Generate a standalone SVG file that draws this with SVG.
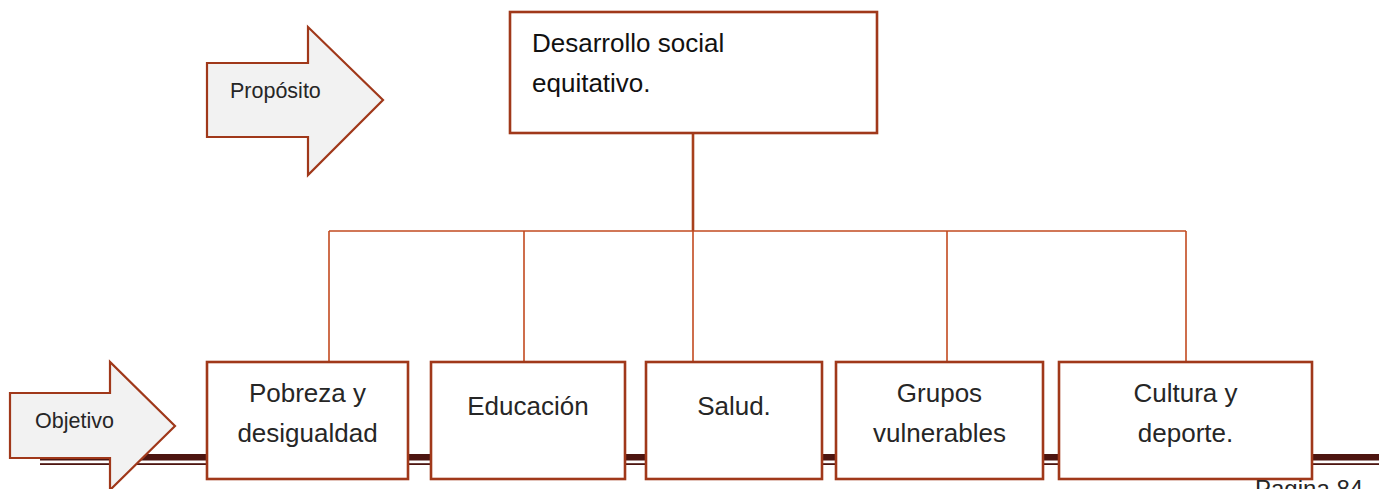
<svg xmlns="http://www.w3.org/2000/svg" width="1379" height="489" viewBox="0 0 1379 489">
<style>
.arrow{fill:#f2f2f2;stroke:#a0381a;stroke-width:2.2;stroke-linejoin:miter}
.box{fill:#ffffff;stroke:#a0381a;stroke-width:2.6}
.conn{stroke:#c24a1f;stroke-width:1.6;fill:none}
.lbl{font-family:"Liberation Sans",Arial,sans-serif;font-size:26px;fill:#262626;text-anchor:middle}
.small{font-family:"Liberation Sans",Arial,sans-serif;font-size:21.5px;fill:#262626}
</style>
<rect width="1379" height="489" fill="#ffffff"/>
<g id="footer-line">
<rect x="40" y="454" width="1339" height="6.5" fill="#4d1510"/>
<rect x="40" y="463.2" width="1339" height="1.8" fill="#4d1510"/>
</g>
<g id="connectors">
<line x1="693" y1="133" x2="693" y2="231" stroke="#a8401c" stroke-width="2.6"/>
<line class="conn" x1="329" y1="231" x2="1186" y2="231"/>
<line class="conn" x1="329" y1="231" x2="329" y2="362"/>
<line class="conn" x1="524" y1="231" x2="524" y2="362"/>
<line class="conn" x1="693" y1="231" x2="693" y2="362"/>
<line class="conn" x1="947" y1="231" x2="947" y2="362"/>
<line class="conn" x1="1186" y1="231" x2="1186" y2="362"/>
</g>
<g id="proposito">
<polygon class="arrow" points="207,63 308,63 308,27 383,100 308,175 308,137 207,137"/>
<text class="small" x="230" y="98">Propósito</text>
</g>
<g id="objetivo">
<polygon class="arrow" points="10,393 110,393 110,362 175,426 110,490 110,458 10,458"/>
<text class="small" x="35" y="428">Objetivo</text>
</g>
<g id="desarrollo">
<rect class="box" x="510" y="12" width="367" height="121"/>
<text style="font-family:'Liberation Sans',Arial,sans-serif;font-size:26px;fill:#111111" x="532" y="52">Desarrollo social</text>
<text style="font-family:'Liberation Sans',Arial,sans-serif;font-size:26px;fill:#111111" x="532" y="92">equitativo.</text>
</g>
<g id="pobreza">
<rect class="box" x="207" y="362" width="201" height="117"/>
<text class="lbl" x="307.5" y="402">Pobreza y</text>
<text class="lbl" x="307.5" y="442">desigualdad</text>
</g>
<g id="educacion">
<rect class="box" x="431" y="362" width="194" height="117"/>
<text class="lbl" x="528" y="415">Educación</text>
</g>
<g id="salud">
<rect class="box" x="646" y="362" width="176" height="117"/>
<text class="lbl" x="734" y="415">Salud.</text>
</g>
<g id="grupos">
<rect class="box" x="836" y="362" width="207" height="117"/>
<text class="lbl" x="939.5" y="402">Grupos</text>
<text class="lbl" x="939.5" y="442">vulnerables</text>
</g>
<g id="cultura">
<rect class="box" x="1059" y="362" width="253" height="117"/>
<text class="lbl" x="1185.5" y="402">Cultura y</text>
<text class="lbl" x="1185.5" y="442">deporte.</text>
</g>
<text x="1255" y="497" style="font-family:'Liberation Sans',Arial,sans-serif;font-size:24px;fill:#262626">Pagina 84</text>
</svg>
